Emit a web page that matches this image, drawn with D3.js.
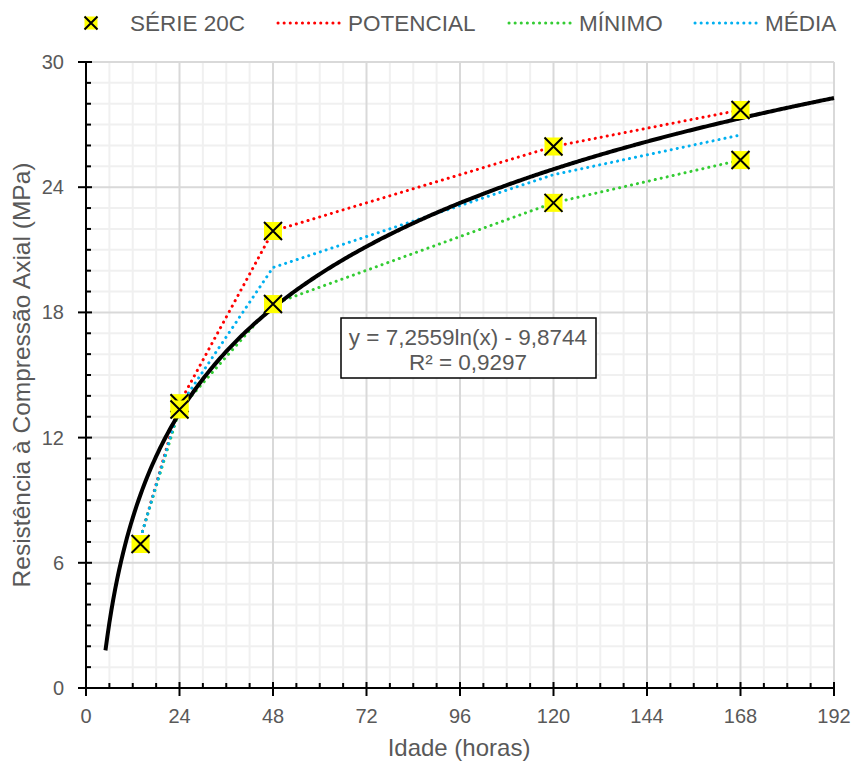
<!DOCTYPE html>
<html>
<head>
<meta charset="utf-8">
<script src="https://cdn.jsdelivr.net/npm/d3@7"></script>
<style>
  body { margin: 0; background: #fff; }
  text { font-family: "Liberation Sans", Arial, sans-serif; fill: #595959; }
</style>
</head>
<body>
<div id="chart"></div>
<script>
// SÉRIE 20C measured points (hours, MPa)
const serieHoras = [14, 24, 24, 48, 48, 120, 120, 168, 168];
const serieMPa = [6.9, 13.65, 13.35, 21.9, 18.4, 25.95, 23.25, 27.7, 25.3];

// envelope lines
const linhaHoras = [14.5, 24, 48, 120, 168];
const potencial = [7.5, 13.65, 21.9, 25.95, 27.7];
const minimo = [7.5, 13.35, 18.4, 23.25, 25.3];
const media = [7.5, 13.5, 20.15, 24.6, 26.5];

// log trendline shown on chart
const coefA = 7.2559, coefB = -9.8744;
const trendInicio = 5, trendFim = 192;

const xTicks = [0, 24, 48, 72, 96, 120, 144, 168, 192];
const yTicks = [0, 6, 12, 18, 24, 30];

const legenda = ["SÉRIE 20C", "POTENCIAL", "MÍNIMO", "MÉDIA"];

let margin = {top: 62, right: 20, bottom: 73, left: 86},
    W = 854, H = 761,
    width = W - margin.left - margin.right,
    height = H - margin.top - margin.bottom;

let svg = d3.select("#chart").append("svg")
    .attr("width", W).attr("height", H);

let g = svg.append("g")
    .attr("transform", "translate(" + margin.left + "," + margin.top + ")");

let x = d3.scaleLinear().domain([0, 192]).range([0, width]);
let y = d3.scaleLinear().domain([0, 30]).range([height, 0]);

/* grid */
let minorX = d3.range(0, 193, 6).filter(function(v) { return v % 24 !== 0; });
let minorY = d3.range(0, 31, 1).filter(function(v) { return v % 6 !== 0; });

g.selectAll(".minx").data(minorX).enter().append("line")
    .attr("x1", function(d) { return x(d); }).attr("x2", function(d) { return x(d); })
    .attr("y1", 0).attr("y2", height)
    .attr("stroke", "#f0f0f0").attr("stroke-width", 2);
g.selectAll(".miny").data(minorY).enter().append("line")
    .attr("y1", function(d) { return y(d); }).attr("y2", function(d) { return y(d); })
    .attr("x1", 0).attr("x2", width)
    .attr("stroke", "#f0f0f0").attr("stroke-width", 2);
g.selectAll(".majx").data(xTicks.slice(1)).enter().append("line")
    .attr("x1", function(d) { return x(d); }).attr("x2", function(d) { return x(d); })
    .attr("y1", 0).attr("y2", height)
    .attr("stroke", "#d9d9d9").attr("stroke-width", 2);
g.selectAll(".majy").data(yTicks.slice(1)).enter().append("line")
    .attr("y1", function(d) { return y(d); }).attr("y2", function(d) { return y(d); })
    .attr("x1", 0).attr("x2", width)
    .attr("stroke", "#d9d9d9").attr("stroke-width", 2);

/* axes */
let axisG = g.append("g");
axisG.append("line").attr("x1", 0).attr("x2", 0).attr("y1", 0).attr("y2", height)
    .attr("stroke", "#000").attr("stroke-width", 2);
axisG.append("line").attr("x1", 0).attr("x2", width).attr("y1", height).attr("y2", height)
    .attr("stroke", "#000").attr("stroke-width", 2);

axisG.selectAll(".yt").data(yTicks).enter().append("line")
    .attr("x1", -8).attr("x2", 6)
    .attr("y1", function(d) { return y(d); }).attr("y2", function(d) { return y(d); })
    .attr("stroke", "#000").attr("stroke-width", 2);
axisG.selectAll(".ymt").data(minorY).enter().append("line")
    .attr("x1", 0).attr("x2", 5)
    .attr("y1", function(d) { return y(d); }).attr("y2", function(d) { return y(d); })
    .attr("stroke", "#000").attr("stroke-width", 2);
axisG.selectAll(".xt").data(xTicks).enter().append("line")
    .attr("y1", height - 6).attr("y2", height + 8)
    .attr("x1", function(d) { return x(d); }).attr("x2", function(d) { return x(d); })
    .attr("stroke", "#000").attr("stroke-width", 2);
axisG.selectAll(".xmt").data(minorX).enter().append("line")
    .attr("y1", height - 5).attr("y2", height)
    .attr("x1", function(d) { return x(d); }).attr("x2", function(d) { return x(d); })
    .attr("stroke", "#000").attr("stroke-width", 2);

axisG.selectAll(".ylab").data(yTicks).enter().append("text")
    .attr("x", -22).attr("y", function(d) { return y(d); })
    .attr("dy", "0.35em").attr("text-anchor", "end")
    .style("font-size", "20px")
    .text(function(d) { return d; });
axisG.selectAll(".xlab").data(xTicks).enter().append("text")
    .attr("x", function(d) { return x(d); }).attr("y", height + 28)
    .attr("dy", "0.35em").attr("text-anchor", "middle")
    .style("font-size", "20px")
    .text(function(d) { return d; });

svg.append("text")
    .attr("x", margin.left + width / 2 - 1).attr("y", 748)
    .attr("dy", "0.35em").attr("text-anchor", "middle")
    .style("font-size", "24px")
    .text("Idade (horas)");
svg.append("text")
    .attr("transform", "translate(21,375) rotate(-90)")
    .attr("dy", "0.35em").attr("text-anchor", "middle")
    .style("font-size", "24.5px")
    .text("Resistência à Compressão Axial (MPa)");

/* dotted lines */
let line = d3.line()
    .x(function(d) { return x(d[0]); })
    .y(function(d) { return y(d[1]); });

let linhas = [
  {vals: potencial, cor: "#ff0000"},
  {vals: minimo, cor: "#33cc33"},
  {vals: media, cor: "#00b0f0"}
];
linhas.forEach(function(l) {
  g.append("path")
      .datum(linhaHoras.map(function(h, i) { return [h, l.vals[i]]; }))
      .attr("d", line)
      .attr("fill", "none")
      .attr("stroke", l.cor)
      .attr("stroke-width", 3)
      .attr("stroke-linecap", "round")
      .attr("stroke-dasharray", "0.1,6");
});

/* trendline */
let trend = d3.range(trendInicio, trendFim + 0.01, 0.5).map(function(h) {
  return [h, coefA * Math.log(h) + coefB];
});
g.append("path")
    .datum(trend)
    .attr("d", line.curve(d3.curveMonotoneX))
    .attr("fill", "none")
    .attr("stroke", "#000")
    .attr("stroke-width", 4);

/* markers */
function marker(sel, s) {
  sel.append("rect").attr("x", -s / 2).attr("y", -s / 2)
      .attr("width", s).attr("height", s).attr("fill", "#ffff00");
  sel.append("path")
      .attr("d", "M" + (-s / 2) + "," + (-s / 2) + "L" + (s / 2) + "," + (s / 2) +
                 "M" + (s / 2) + "," + (-s / 2) + "L" + (-s / 2) + "," + (s / 2))
      .attr("stroke", "#000").attr("stroke-width", 2);
}
serieHoras.forEach(function(h, i) {
  let m = g.append("g")
      .attr("transform", "translate(" + x(h) + "," + y(serieMPa[i]) + ")");
  marker(m, 18);
});

/* equation box */
let eq = svg.append("g");
eq.append("rect").attr("x", 341).attr("y", 318).attr("width", 255).attr("height", 60)
    .attr("fill", "#fff").attr("stroke", "#000").attr("stroke-width", 1.5);
eq.append("text").attr("x", 468).attr("y", 337).attr("dy", "0.35em")
    .attr("text-anchor", "middle").style("font-size", "22.5px")
    .text("y = 7,2559ln(x) - 9,8744");
eq.append("text").attr("x", 468).attr("y", 362).attr("dy", "0.35em")
    .attr("text-anchor", "middle").style("font-size", "22.5px")
    .text("R² = 0,9297");

/* legend */
let leg = svg.append("g");
let lm = leg.append("g").attr("transform", "translate(91,23)");
marker(lm, 13);
leg.append("text").attr("x", 130).attr("y", 23).attr("dy", "0.35em")
    .style("font-size", "22.5px").text(legenda[0]);

let legItens = [
  {x1: 278, x2: 342, tx: 348, cor: "#ff0000", nome: legenda[1]},
  {x1: 509, x2: 573, tx: 579, cor: "#33cc33", nome: legenda[2]},
  {x1: 695, x2: 759, tx: 765, cor: "#00b0f0", nome: legenda[3]}
];
legItens.forEach(function(it) {
  leg.append("line").attr("x1", it.x1).attr("x2", it.x2).attr("y1", 23).attr("y2", 23)
      .attr("stroke", it.cor).attr("stroke-width", 3)
      .attr("stroke-linecap", "round").attr("stroke-dasharray", "0.1,6");
  leg.append("text").attr("x", it.tx).attr("y", 23).attr("dy", "0.35em")
      .style("font-size", "22.5px").text(it.nome);
});
</script>
</body>
</html>
